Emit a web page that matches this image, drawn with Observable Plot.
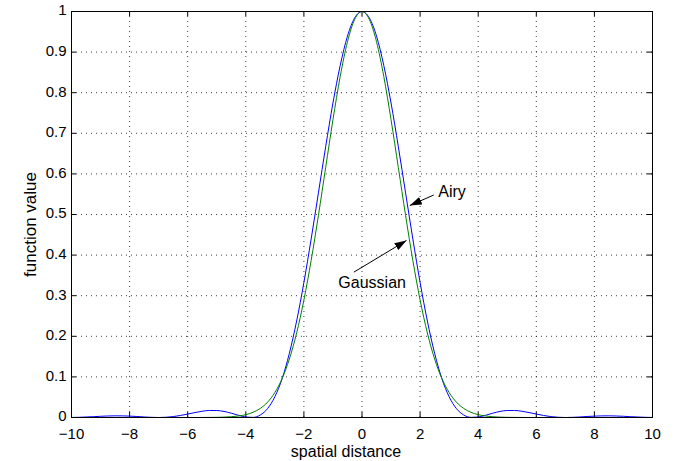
<!DOCTYPE html>
<html><head><meta charset="utf-8">
<script src="https://cdn.jsdelivr.net/npm/d3@7"></script>
<script src="https://cdn.jsdelivr.net/npm/@observablehq/plot@0.6"></script>
<style>html,body{margin:0;padding:0;background:#fff;} #chart{width:674px;height:461px;overflow:hidden;}</style>
</head><body><div id="chart"></div>
<script>
const distance = [-10,-9.75,-9.5,-9.25,-9,-8.75,-8.5,-8.25,-8,-7.75,-7.5,-7.25,-7,-6.75,-6.5,-6.25,-6,-5.75,-5.5,-5.25,-5,-4.75,-4.5,-4.25,-4,-3.75,-3.5,-3.25,-3,-2.75,-2.5,-2.25,-2,-1.75,-1.5,-1.25,-1,-0.75,-0.5,-0.25,0,0.25,0.5,0.75,1,1.25,1.5,1.75,2,2.25,2.5,2.75,3,3.25,3.5,3.75,4,4.25,4.5,4.75,5,5.25,5.5,5.75,6,6.25,6.5,6.75,7,7.25,7.5,7.75,8,8.25,8.5,8.75,9,9.25,9.5,9.75,10];
const airy = [0.0001,0.0005,0.0012,0.0020,0.0030,0.0037,0.0041,0.0040,0.0034,0.0025,0.0013,0.0004,0.0000,0.0006,0.0022,0.0050,0.0085,0.0122,0.0154,0.0173,0.0172,0.0149,0.0106,0.0054,0.0011,0.0003,0.0062,0.0219,0.0511,0.0955,0.1582,0.2376,0.3326,0.4397,0.5533,0.6674,0.7746,0.8671,0.9394,0.9845,1,0.9845,0.9394,0.8671,0.7746,0.6674,0.5533,0.4397,0.3326,0.2376,0.1582,0.0955,0.0511,0.0219,0.0062,0.0003,0.0011,0.0054,0.0106,0.0149,0.0172,0.0173,0.0154,0.0122,0.0085,0.0050,0.0022,0.0006,0.0000,0.0004,0.0013,0.0025,0.0034,0.0040,0.0041,0.0037,0.0030,0.0020,0.0012,0.0005,0.0001];
const gaussian = [0,0,0,0,0,0,0,0,0,0,0,0,0,0,0,0,0,0,0.0001,0.0002,0.0004,0.0009,0.0019,0.0037,0.0070,0.0128,0.0224,0.0378,0.0614,0.0959,0.1441,0.2082,0.2894,0.3870,0.4978,0.6161,0.7334,0.8400,0.9254,0.9808,1,0.9808,0.9254,0.8400,0.7334,0.6161,0.4978,0.3870,0.2894,0.2082,0.1441,0.0959,0.0614,0.0378,0.0224,0.0128,0.0070,0.0037,0.0019,0.0009,0.0004,0.0002,0.0001,0,0,0,0,0,0,0,0,0,0,0,0,0,0,0,0,0,0];
const xTicks = [-10,-8,-6,-4,-2,0,2,4,6,8,10];
const yTicks = [0,0.1,0.2,0.3,0.4,0.5,0.6,0.7,0.8,0.9,1];
const xLabel = "spatial distance";
const yLabel = "function value";
const noteText = ["Airy","Gaussian"];
const noteX = [3.10,0.35];
const noteY = [0.555,0.331];
const arrowX1 = [2.47,-0.28];
const arrowY1 = [0.548,0.358];
const arrowX2 = [1.645,1.532];
const arrowY2 = [0.522,0.436];

const W = 674, H = 461, mL = 71, mR = 22, mT = 11, mB = 44;
const pw = W - mL - mR, ph = H - mT - mB;
const rows = distance.map((d, i) => ({d, airy: airy[i], gauss: gaussian[i]}));
const notes = noteText.map((t, i) => ({t, x: noteX[i], y: noteY[i], x1: arrowX1[i], y1: arrowY1[i], x2: arrowX2[i], y2: arrowY2[i]}));
const font = "'Liberation Sans', Arial, Helvetica, sans-serif";
const fmt = d3.format("");

const plot = Plot.plot({
  width: W, height: H,
  marginLeft: mL, marginRight: mR, marginTop: mT, marginBottom: mB,
  style: {fontFamily: font, fontSize: "15px", background: "#fff", color: "#000", overflow: "visible"},
  x: {domain: [-10, 10], axis: null},
  y: {domain: [0, 1], axis: null},
  marks: [
    Plot.ruleX(xTicks.slice(1, -1), {x: d => d, stroke: "#000", strokeOpacity: 0.75, strokeDasharray: "1,4"}),
    Plot.ruleY(yTicks.slice(1, -1), {y: d => d, stroke: "#000", strokeOpacity: 0.75, strokeDasharray: "1,4"}),
    Plot.tickX(xTicks, {x: d => d, stroke: "#000", insetTop: ph - 5}),
    Plot.tickX(xTicks, {x: d => d, stroke: "#000", insetBottom: ph - 5}),
    Plot.tickY(yTicks, {y: d => d, stroke: "#000", insetRight: pw - 5}),
    Plot.tickY(yTicks, {y: d => d, stroke: "#000", insetLeft: pw - 5}),
    Plot.text(xTicks, {x: d => d, text: d => fmt(d), frameAnchor: "bottom", dy: 11, lineAnchor: "top", textAnchor: "middle", fontSize: 15, fill: "#000"}),
    Plot.text(yTicks, {y: d => d, text: d => fmt(d), frameAnchor: "left", dx: -5, dy: -1, lineAnchor: "middle", textAnchor: "end", fontSize: 15, fill: "#000"}),
    Plot.line(rows, {x: "d", y: "airy", stroke: "#0000ff", strokeWidth: 1, curve: "monotone-x"}),
    Plot.line(rows, {x: "d", y: "gauss", stroke: "#008000", strokeWidth: 1, curve: "monotone-x"}),
    Plot.frame({stroke: "#000", strokeWidth: 1}),
    Plot.link(notes, {x1: "x1", y1: "y1", x2: "x2", y2: "y2", stroke: "#000", strokeWidth: 1}),
    Plot.text(notes, {x: "x", y: "y", text: "t", fontSize: 16, textAnchor: "middle", lineAnchor: "middle", fill: "#000"}),
    Plot.text([xLabel], {text: d => d, frameAnchor: "bottom", dx: -16, dy: 39, lineAnchor: "bottom", textAnchor: "middle", fontSize: 16, fill: "#000"}),
    Plot.text([yLabel], {text: d => d, frameAnchor: "left", dx: -41, dy: 10, rotate: -90, lineAnchor: "middle", textAnchor: "middle", fontSize: 17, fill: "#000"})
  ]
});

const svg = d3.select(plot);
const defs = svg.append("defs");
defs.append("marker")
  .attr("id", "arrowhead")
  .attr("viewBox", "-12 -4 12 8")
  .attr("refX", 0).attr("refY", 0)
  .attr("markerWidth", 12).attr("markerHeight", 8)
  .attr("markerUnits", "userSpaceOnUse")
  .attr("orient", "auto")
  .append("path").attr("d", "M0,0L-12,-4L-12,4Z").attr("fill", "#000");
svg.selectAll('g[aria-label="link"] path').attr("marker-end", "url(#arrowhead)");

document.getElementById("chart").appendChild(plot);
</script>
</body></html>
